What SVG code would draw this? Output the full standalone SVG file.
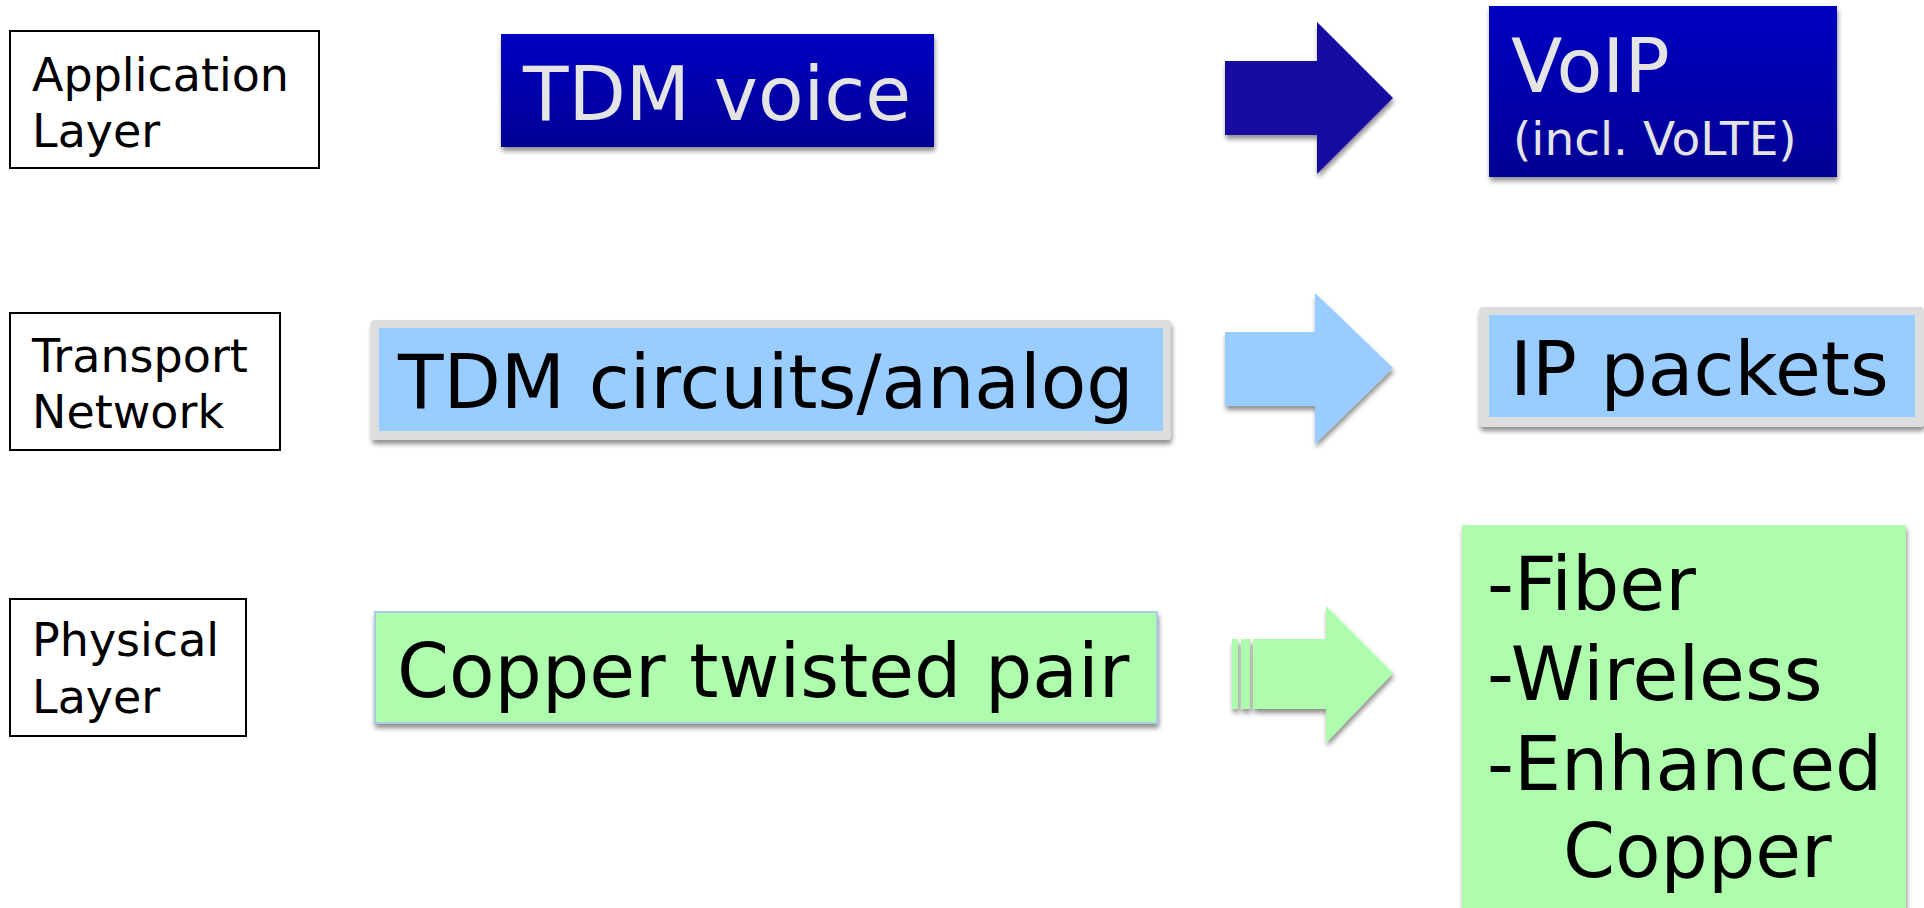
<svg xmlns="http://www.w3.org/2000/svg" width="1924" height="908" viewBox="0 0 1924 908">
<defs>
<linearGradient id="gBlue" x1="0" y1="0" x2="0" y2="1">
<stop offset="0" stop-color="#0000c2"/>
<stop offset="1" stop-color="#000094"/>
</linearGradient>
<filter id="sh" x="-5%" y="-10%" width="110%" height="130%">
<feGaussianBlur in="SourceAlpha" stdDeviation="2.5"/>
<feOffset dx="1" dy="4" result="b"/>
<feComponentTransfer><feFuncA type="linear" slope="0.45"/></feComponentTransfer>
<feMerge><feMergeNode/><feMergeNode in="SourceGraphic"/></feMerge>
</filter>
</defs>
<style>
.lbl{fill:#fff;stroke:#000;stroke-width:2}
.lt{font-family:"DejaVu Sans",Verdana,sans-serif;font-size:46px;fill:#000}
.big{font-family:"DejaVu Sans",Verdana,sans-serif;font-size:74.5px}
.w{fill:#e4e4e4}
.k{fill:#000}
.lb{fill:#99ccff}
.gr{fill:#ddd}
.gn{fill:#adfdad}
</style>
<rect width="1924" height="908" fill="#fff"/>

<g id="label-app">
<rect class="lbl" x="10" y="31" width="309" height="137"/>
<text class="lt" x="32" y="91">Application</text>
<text class="lt" x="32" y="147">Layer</text>
</g>
<g id="label-transport">
<rect class="lbl" x="10" y="313" width="270" height="137"/>
<text class="lt" x="32" y="372">Transport</text>
<text class="lt" x="32" y="428">Network</text>
</g>
<g id="label-physical">
<rect class="lbl" x="10" y="599" width="236" height="137"/>
<text class="lt" x="32" y="656">Physical</text>
<text class="lt" x="32" y="713">Layer</text>
</g>

<g id="tdm-voice">
<rect x="501" y="34" width="433" height="113" fill="url(#gBlue)" filter="url(#sh)"/>
<text class="big w" x="523" y="120">TDM voice</text>
</g>
<g id="voip">
<rect x="1489" y="6" width="348" height="171" fill="url(#gBlue)" filter="url(#sh)"/>
<text class="w" x="1511" y="92" font-family="DejaVu Sans, Verdana, sans-serif" font-size="75">VoIP</text>
<text class="w" x="1513" y="155" font-family="DejaVu Sans, Verdana, sans-serif" font-size="47">(incl. VoLTE)</text>
</g>

<g id="tdm-circuits">
<rect class="gr" x="371" y="320" width="800" height="120" rx="4" filter="url(#sh)"/>
<rect class="lb" x="379" y="328" width="784" height="103"/>
<text class="big k" x="398" y="408">TDM circuits/analog</text>
</g>
<g id="ip-packets">
<rect class="gr" x="1479" y="307" width="445" height="120" rx="4" filter="url(#sh)"/>
<rect class="lb" x="1489" y="315" width="426" height="102"/>
<text class="big k" x="1510" y="395">IP packets</text>
</g>

<g id="copper">
<rect class="gn" x="375" y="612" width="782" height="111" stroke="#a8cce8" stroke-width="2" filter="url(#sh)"/>
<text class="big k" x="397" y="697">Copper twisted pair</text>
</g>
<g id="new-physical">
<rect class="gn" x="1462" y="525" width="444" height="390" filter="url(#sh)"/>
<text class="big k" x="1487" y="610">-Fiber</text>
<text class="big k" x="1487" y="700">-Wireless</text>
<text class="big k" x="1487" y="790">-Enhanced</text>
<text class="big k" x="1563" y="877">Copper</text>
</g>

<g id="connectors">
<polygon points="1225,61 1317,61 1317,22 1393,98 1317,174 1317,135 1225,135" fill="#180ca0" filter="url(#sh)"/>
<polygon points="1225,332 1315,332 1315,293 1393,368 1315,444 1315,406 1225,406" fill="#99ccff" filter="url(#sh)"/>
<g filter="url(#sh)" fill="#adfdad">
<rect x="1232" y="639" width="6" height="70"/>
<rect x="1241" y="639" width="9" height="70"/>
<polygon points="1253,639 1326,639 1326,606 1393,673 1326,743 1326,709 1253,709"/>
</g>
</g>
</svg>
